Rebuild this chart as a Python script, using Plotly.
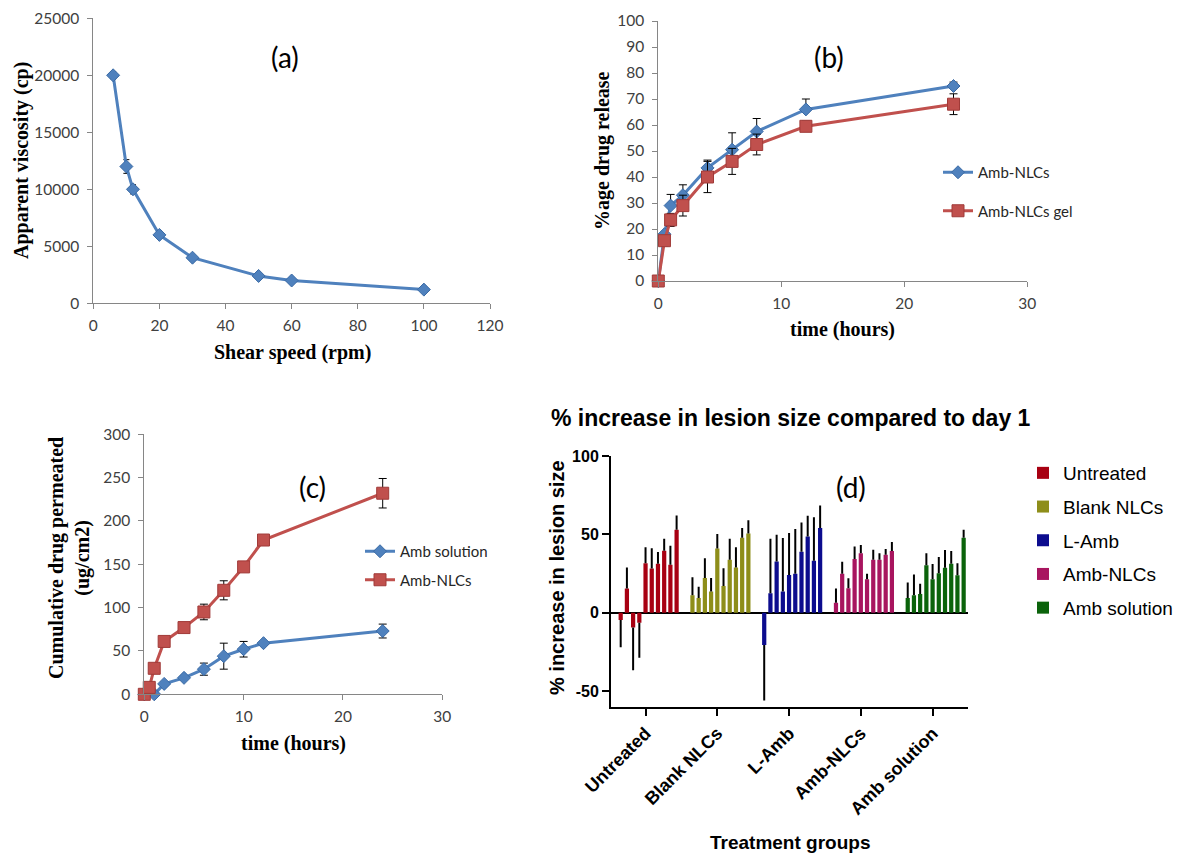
import plotly.graph_objects as go

W, H = 1182, 857

# ---------------- data ----------------
# (a) viscosity
a_speed = [6, 10, 12, 20, 30, 50, 60, 100]
a_visc = [20000, 12000, 10000, 6000, 4000, 2400, 2000, 1200]
a_err = [300, 600, 400, 200, 200, 200, 150, 150]

# (b) release
b_time_nlc = [0, 0.5, 1, 2, 4, 6, 8, 12, 24]
b_nlc = [0, 18, 29, 33, 43.5, 50.5, 57.5, 66, 75]
b_nlc_err = [0, 0, 4.3, 4, 3, 6.5, 5, 4, 1.5]
b_time_gel = [0, 0.5, 1, 2, 4, 6, 8, 12, 24]
b_gel = [0, 15.5, 23.5, 29, 40, 46, 52.5, 59.5, 68]
b_gel_err = [0, 2, 2.5, 4, 6, 5, 4, 2, 4]

# (c) permeation
c_time_sol = [0, 1, 2, 4, 6, 8, 10, 12, 24]
c_sol = [0, 0, 12, 19, 29, 44, 52, 59, 73]
c_sol_err = [0, 0, 2, 2, 7, 15, 9, 2, 8]
c_time_nlc = [0, 0.5, 1, 2, 4, 6, 8, 10, 12, 24]
c_nlc = [0, 8, 30, 61, 77, 95, 120, 147, 178, 232]
c_nlc_err = [0, 0, 2, 3, 3, 9, 11, 4, 3, 17]

# (d) lesion size
d_groups = ["Untreated", "Blank NLCs", "L-Amb", "Amb-NLCs", "Amb solution"]
d_untreated = [-4.7, 15.4, -9.4, -6.4, 31.6, 28.2, 31.2, 39.5, 30.6, 53.0]
d_untreated_err = [17.3, 13.4, 27.4, 22.4, 10.1, 13.0, 7.5, 7.7, 12.1, 9.0]
d_blank = [11.1, 9.4, 22.2, 13.5, 41.0, 17.1, 33.8, 28.8, 47.9, 50.6]
d_blank_err = [11.5, 7.1, 12.6, 8.7, 9.2, 11.3, 13.4, 12.9, 6.1, 8.4]
d_lamb = [-20.7, 12.4, 32.7, 13.5, 24.1, 24.8, 38.9, 48.7, 33.1, 54.1]
d_lamb_err = [35.3, 34.8, 17.1, 34.1, 26.8, 28.6, 18.6, 13.1, 27.8, 14.3]
d_ambnlc = [6.4, 24.8, 15.6, 34.2, 38.0, 21.4, 33.8, 33.8, 37.0, 39.3]
d_ambnlc_err = [9.0, 7.7, 6.4, 8.1, 5.2, 3.4, 6.4, 4.2, 3.6, 5.8]
d_ambsol = [9.4, 11.1, 12.0, 30.3, 21.4, 25.2, 28.6, 31.2, 23.9, 47.9]
d_ambsol_err = [9.8, 13.3, 6.4, 7.7, 9.6, 10.3, 11.4, 8.1, 7.7, 5.1]
d_colors = ["#A80012", "#8E8E1A", "#0C0C8E", "#A8155F", "#0B630B"]

# ---------------- helpers ----------------
def px(x):
    return x / W

def py(y):
    return 1 - y / H

BLUE = "#4F81BD"
BLUE_EDGE = "#3A6AA5"
RED = "#C0504D"
RED_EDGE = "#A03A38"
XL_FONT = dict(family="Lato", size=15.5, color="#404040")
SERIF = "Liberation Serif"
ARIAL = "Liberation Sans"

def xl_axis(**kw):
    d = dict(showline=True, linecolor="#868686", linewidth=1, ticks="outside",
             ticklen=5, tickcolor="#868686", showgrid=False, zeroline=False,
             tickfont=XL_FONT, automargin=False)
    d.update(kw)
    return d

fig = go.Figure()

# (a)
fig.add_trace(go.Scatter(
    x=a_speed, y=a_visc, mode="lines+markers", xaxis="x", yaxis="y", cliponaxis=False,
    line=dict(color=BLUE, width=3),
    marker=dict(symbol="diamond", size=10, color=BLUE, line=dict(color=BLUE_EDGE, width=1)),
    error_y=dict(type="data", array=a_err, color="black", thickness=1, width=3),
    showlegend=False))

# (b)
fig.add_trace(go.Scatter(
    x=b_time_nlc, y=b_nlc, mode="lines+markers", name="Amb-NLCs", xaxis="x2", yaxis="y2",
    cliponaxis=False,
    line=dict(color=BLUE, width=3),
    marker=dict(symbol="diamond", size=10, color=BLUE, line=dict(color=BLUE_EDGE, width=1)),
    error_y=dict(type="data", symmetric=False, array=b_nlc_err, arrayminus=[0] * len(b_nlc_err),
                 color="black", thickness=1, width=4),
    legend="legend", legendgroup="b1"))
fig.add_trace(go.Scatter(
    x=b_time_gel, y=b_gel, mode="lines+markers", name="Amb-NLCs gel", xaxis="x2", yaxis="y2",
    cliponaxis=False,
    line=dict(color=RED, width=3),
    marker=dict(symbol="square", size=12, color=RED, line=dict(color=RED_EDGE, width=1)),
    error_y=dict(type="data", array=b_gel_err, color="black", thickness=1, width=4),
    legend="legend", legendgroup="b2"))

# (c)
fig.add_trace(go.Scatter(
    x=c_time_sol, y=c_sol, mode="lines+markers", name="Amb solution", xaxis="x3", yaxis="y3",
    cliponaxis=False,
    line=dict(color=BLUE, width=3),
    marker=dict(symbol="diamond", size=10, color=BLUE, line=dict(color=BLUE_EDGE, width=1)),
    error_y=dict(type="data", array=c_sol_err, color="black", thickness=1, width=4),
    legend="legend2", legendgroup="c1"))
fig.add_trace(go.Scatter(
    x=c_time_nlc, y=c_nlc, mode="lines+markers", name="Amb-NLCs", xaxis="x3", yaxis="y3",
    cliponaxis=False,
    line=dict(color=RED, width=3),
    marker=dict(symbol="square", size=12, color=RED, line=dict(color=RED_EDGE, width=1)),
    error_y=dict(type="data", array=c_nlc_err, color="black", thickness=1, width=4),
    legend="legend2", legendgroup="c2"))

# (d)
GROUP_PITCH = 11.55
d_vals = [d_untreated, d_blank, d_lamb, d_ambnlc, d_ambsol]
d_errs = [d_untreated_err, d_blank_err, d_lamb_err, d_ambnlc_err, d_ambsol_err]
for g, (name, vals, errs, col) in enumerate(zip(d_groups, d_vals, d_errs, d_colors)):
    xs = [g * GROUP_PITCH + i for i in range(len(vals))]
    plus = [e if v >= 0 else 0 for v, e in zip(vals, errs)]
    minus = [e if v < 0 else 0 for v, e in zip(vals, errs)]
    fig.add_trace(go.Bar(
        x=xs, y=vals, width=0.68, name=name, marker=dict(color=col, line=dict(width=0)),
        error_y=dict(type="data", symmetric=False, array=plus, arrayminus=minus,
                     color="black", thickness=2, width=0),
        xaxis="x4", yaxis="y4", legend="legend3", legendgroup="d%d" % g))

tickvals_d = [g * GROUP_PITCH + 4 for g in range(len(d_groups))]

fig.update_layout(
    width=W, height=H, margin=dict(l=0, r=0, t=0, b=0),
    paper_bgcolor="white", plot_bgcolor="white",
    barmode="overlay",
    xaxis=xl_axis(domain=[px(93.3), px(490)], range=[0, 120], dtick=20, anchor="y",
                  ticklabelstandoff=3),
    yaxis=xl_axis(domain=[py(303.3), py(18.3)], range=[0, 25000], dtick=5000, tickformat="d",
                  anchor="x", ticklabelstandoff=5),
    xaxis2=xl_axis(domain=[px(658.3), px(1027.3)], range=[0, 30], dtick=10, anchor="y2",
                   ticklabelstandoff=3),
    yaxis2=xl_axis(domain=[py(281), py(21)], range=[0, 100], dtick=10, anchor="x2",
                   ticklabelstandoff=5),
    xaxis3=xl_axis(domain=[px(144.3), px(442.3)], range=[0, 30], dtick=10, anchor="y3",
                   ticklabelstandoff=3),
    yaxis3=xl_axis(domain=[py(694.3), py(434.3)], range=[0, 300], dtick=50, anchor="x3",
                   ticklabelstandoff=5),
    xaxis4=dict(domain=[px(611), px(968)], range=[-1.56, 55.9], anchor="y4", automargin=False,
                showline=True, linecolor="black", linewidth=2, ticks="outside", ticklen=7,
                tickwidth=2, tickcolor="black", showgrid=False, zeroline=False,
                tickmode="array", tickvals=tickvals_d, ticktext=["<b>%s</b>" % t for t in d_groups],
                tickangle=-45, tickfont=dict(family=ARIAL, size=18, color="black")),
    yaxis4=dict(domain=[py(706.7), py(456)], range=[-60, 100], anchor="x4", automargin=False,
                showline=True, linecolor="black", linewidth=2, ticks="outside", ticklen=7,
                tickwidth=2, tickcolor="black", showgrid=False,
                zeroline=True, zerolinecolor="black", zerolinewidth=2,
                tickmode="array", tickvals=[-50, 0, 50, 100],
                ticktext=["<b>-50</b>", "<b>0</b>", "<b>50</b>", "<b>100</b>"],
                tickfont=dict(family=ARIAL, size=16, color="black")),
    legend=dict(x=px(938), y=py(156), xanchor="left", yanchor="top", bgcolor="rgba(0,0,0,0)",
                font=dict(family="Lato", size=15, color="#262626"), tracegroupgap=16,
                traceorder="grouped"),
    legend2=dict(x=px(360), y=py(535), xanchor="left", yanchor="top", bgcolor="rgba(0,0,0,0)",
                 font=dict(family="Lato", size=15, color="#262626"), tracegroupgap=6,
                 traceorder="grouped"),
    legend3=dict(x=px(1023), y=py(454), xanchor="left", yanchor="top", bgcolor="rgba(0,0,0,0)",
                 font=dict(family=ARIAL, size=19, color="black"), tracegroupgap=6,
                 traceorder="grouped"),
)

ann = []
def add_text(x, y, text, size, family, color="black", angle=0):
    ann.append(dict(x=px(x), y=py(y), xref="paper", yref="paper", text=text, showarrow=False,
                    font=dict(family=family, size=size, color=color), textangle=angle,
                    xanchor="center", yanchor="middle"))

# panel labels
add_text(285, 57, "(a)", 28, "Lato", "#000000")
add_text(829, 57, "(b)", 28, "Lato", "#000000")
add_text(312, 487, "(c)", 28, "Lato", "#000000")
add_text(851, 487, "(d)", 28, "Lato", "#000000")

# axis titles (a)-(c)
add_text(21, 161, "<b>Apparent viscosity (cp)</b>", 20, SERIF, angle=-90)
add_text(292, 352, "<b>Shear speed (rpm)</b>", 20, SERIF)
add_text(602, 151, "<b>%age drug release</b>", 20, SERIF, angle=-90)
add_text(842, 330, "<b>time (hours)</b>", 20, SERIF)
add_text(69, 558, "<b>Cumulative drug permeated<br>(ug/cm2)</b>", 20, SERIF, angle=-90)
add_text(293, 743, "<b>time (hours)</b>", 20, SERIF)

# (d) titles
add_text(791, 418, "<b>% increase in lesion size compared to day 1</b>", 23, ARIAL)
add_text(557, 578, "<b>% increase in lesion size</b>", 20, ARIAL, angle=-90)
add_text(790, 842, "<b>Treatment groups</b>", 19, ARIAL)

fig.update_layout(annotations=ann)

fig.write_html("out.html")
